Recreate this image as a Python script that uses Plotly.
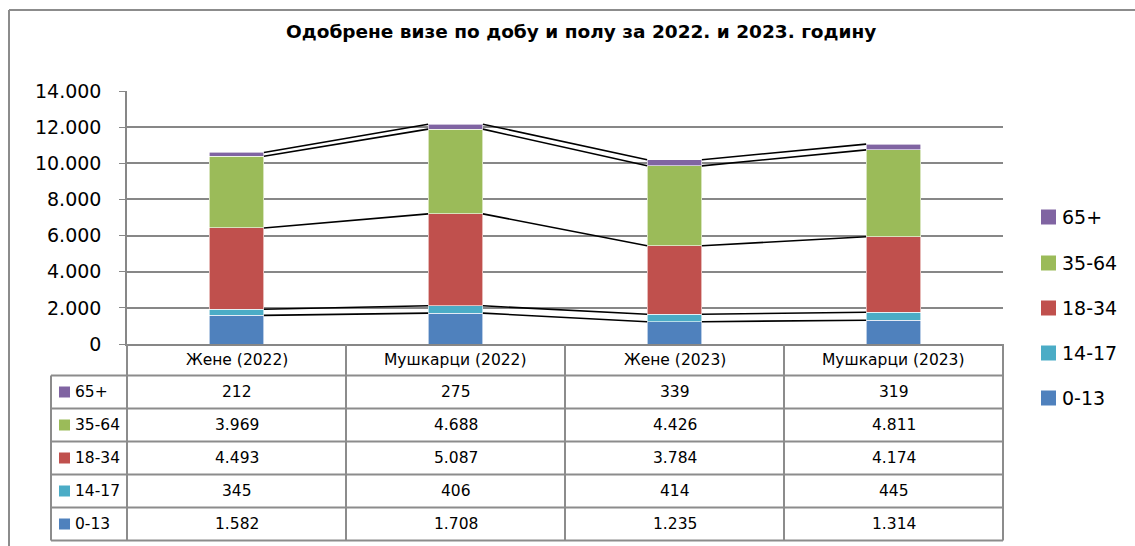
import plotly.graph_objects as go

categories = ["Жене (2022)", "Мушкарци (2022)", "Жене (2023)", "Мушкарци (2023)"]
series_names = ["0-13", "14-17", "18-34", "35-64", "65+"]
v_0_13 = [1582, 1708, 1235, 1314]
v_14_17 = [345, 406, 414, 445]
v_18_34 = [4493, 5087, 3784, 4174]
v_35_64 = [3969, 4688, 4426, 4811]
v_65p = [212, 275, 339, 319]
series_values = [v_0_13, v_14_17, v_18_34, v_35_64, v_65p]
colors = ["#4F81BD", "#4BACC6", "#C0504D", "#9BBB59", "#8064A2"]
y_ticks = [0, 2000, 4000, 6000, 8000, 10000, 12000, 14000]
y_tick_text = ["0", "2.000", "4.000", "6.000", "8.000", "10.000", "12.000", "14.000"]
title = "Одобрене визе по добу и полу за 2022. и 2023. годину"

W, H = 1135, 546
PL, PR, PT, PB = 127, 1003, 91, 344
FONT = "DejaVu Sans"
GRID = "#878787"
BAR_W = 0.25


def px(X):
    return (X - PL) / (PR - PL)


def py(Y):
    return (PB - Y) / (PB - PT)


def fmt(v):
    return f"{v:,}".replace(",", ".")


fig = go.Figure()
xs = list(range(len(categories)))
for name, vals, col in zip(series_names, series_values, colors):
    fig.add_trace(go.Bar(x=xs, y=vals, name=name, marker=dict(color=col, line=dict(color="white", width=0.6)),
                         width=BAR_W, showlegend=False))

# series lines connecting top of each stack segment
cum = [0] * len(categories)
for vals in series_values:
    cum = [c + v for c, v in zip(cum, vals)]
    lx, ly = [], []
    for i in range(len(categories) - 1):
        lx += [i + BAR_W / 2, i + 1 - BAR_W / 2, None]
        ly += [cum[i], cum[i + 1], None]
    fig.add_trace(go.Scatter(x=lx, y=ly, mode="lines", line=dict(color="black", width=1.6),
                             showlegend=False, hoverinfo="skip"))

shapes = []
annotations = []

# outer border (top and left edges; right/bottom fall outside the picture)
shapes.append(dict(type="line", xref="paper", yref="paper", x0=px(9), x1=px(1140), y0=py(10), y1=py(10),
                   line=dict(color="#8c8c8c", width=2), layer="below"))
shapes.append(dict(type="line", xref="paper", yref="paper", x0=px(9), x1=px(9), y0=py(10), y1=py(550),
                   line=dict(color="#8c8c8c", width=2), layer="below"))

# data table
TL = 51
row_lines = [375.5, 408.5, 441.5, 474.5, 507.5, 540.5]
col_edges = [PL + (PR - PL) * k / len(categories) for k in range(len(categories) + 1)]
tcol = "#8c8c8c"
for i, yy in enumerate(row_lines):
    shapes.append(dict(type="line", xref="paper", yref="paper", x0=px(TL), x1=px(PR), y0=py(yy), y1=py(yy),
                       line=dict(color=tcol, width=2)))
for xx in col_edges:
    shapes.append(dict(type="line", xref="paper", yref="paper", x0=px(xx), x1=px(xx), y0=py(PB), y1=py(540.5),
                       line=dict(color=tcol, width=2)))
shapes.append(dict(type="line", xref="paper", yref="paper", x0=px(TL), x1=px(TL), y0=py(375.5), y1=py(540.5),
                   line=dict(color=tcol, width=2)))

# header
for k, cat in enumerate(categories):
    cx = (col_edges[k] + col_edges[k + 1]) / 2
    annotations.append(dict(xref="paper", yref="paper", x=px(cx), y=py(359.5), text=cat, showarrow=False,
                            font=dict(family=FONT, size=15.5, color="black"), xanchor="center", yanchor="middle"))

table_order = list(range(len(series_names)))[::-1]
for r, si in enumerate(table_order):
    ymid = (row_lines[r] + row_lines[r + 1]) / 2
    shapes.append(dict(type="rect", xref="paper", yref="paper", x0=px(59), x1=px(70), y0=py(ymid + 5.5),
                       y1=py(ymid - 5.5), fillcolor=colors[si], line=dict(width=0)))
    annotations.append(dict(xref="paper", yref="paper", x=px(73), y=py(ymid), text=series_names[si], showarrow=False,
                            font=dict(family=FONT, size=15.5, color="black"), xanchor="left", yanchor="middle"))
    for k in range(len(categories)):
        cx = (col_edges[k] + col_edges[k + 1]) / 2
        annotations.append(dict(xref="paper", yref="paper", x=px(cx), y=py(ymid), text=fmt(series_values[si][k]),
                                showarrow=False, font=dict(family=FONT, size=15.5, color="black"),
                                xanchor="center", yanchor="middle"))

# right legend
leg_y = [217, 263, 308, 353, 398]
for j, si in enumerate(table_order):
    yy = leg_y[j]
    shapes.append(dict(type="rect", xref="paper", yref="paper", x0=px(1041), x1=px(1056), y0=py(yy + 7.5),
                       y1=py(yy - 7.5), fillcolor=colors[si], line=dict(width=0)))
    annotations.append(dict(xref="paper", yref="paper", x=px(1060), y=py(yy), text=series_names[si], showarrow=False,
                            font=dict(family=FONT, size=19, color="black"), xanchor="left", yanchor="middle"))

# title
annotations.append(dict(xref="paper", yref="paper", x=px(581), y=py(31), text="<b>" + title + "</b>", showarrow=False,
                        font=dict(family=FONT, size=18.5, color="black"), xanchor="center", yanchor="middle"))

fig.update_layout(
    width=W, height=H, autosize=False,
    margin=dict(l=PL, r=W - PR, t=PT, b=H - PB, pad=0),
    paper_bgcolor="white", plot_bgcolor="white",
    barmode="stack", bargap=0.75,
    shapes=shapes, annotations=annotations,
    showlegend=False,
    xaxis=dict(range=[-0.5, len(categories) - 0.5], showticklabels=False, showgrid=False, zeroline=False,
               showline=True, linecolor=GRID, linewidth=2, ticks="", fixedrange=True),
    yaxis=dict(range=[0, 14000], tickvals=y_ticks, ticktext=y_tick_text, showgrid=True, gridcolor=GRID,
               gridwidth=1.5, zeroline=False, showline=True, linecolor=GRID, linewidth=1.5, ticks="outside",
               ticklen=6, tickcolor=GRID, tickfont=dict(family=FONT, size=19, color="black"),
               ticklabelstandoff=14, fixedrange=True),
)

fig.write_html("out.html", config={"displayModeBar": False},
               post_script="document.body.style.margin='0';document.body.style.overflow='hidden';")
